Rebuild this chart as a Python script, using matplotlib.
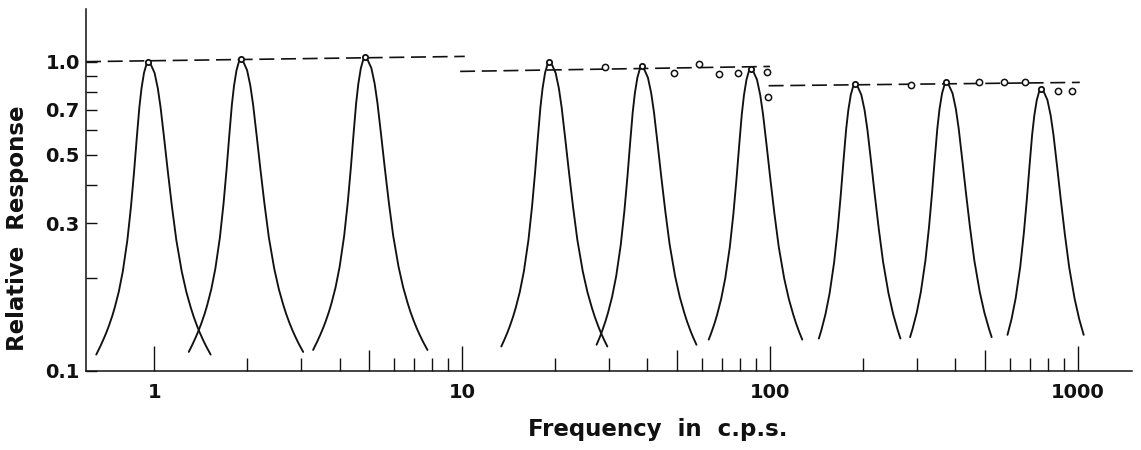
from matplotlib import pyplot as plt
from matplotlib.ticker import FixedLocator, NullFormatter
import numpy as np

# resonance peaks
peak_freq = [0.956, 1.91, 4.84, 19.2, 38.3, 86.6, 189, 374, 760]
peak_resp = [1.0, 1.02, 1.035, 1.0, 0.965, 0.95, 0.849, 0.858, 0.818]
foot_resp = [0.113, 0.113, 0.113, 0.118, 0.12, 0.121, 0.123, 0.126, 0.128]

# shape of one peak (response relative to its top, half widths in decades),
# read off the first curve
shape_rel = [1.0, 0.995, 0.98, 0.92, 0.82, 0.71, 0.56, 0.44, 0.34, 0.265, 0.21,
             0.18, 0.16, 0.15, 0.14, 0.133, 0.126, 0.12, 0.113]
shape_left = [0, 0.0025, 0.0061, 0.0139, 0.0220, 0.0291, 0.0378, 0.0462, 0.0562,
              0.0679, 0.0827, 0.0960, 0.1092, 0.1176, 0.1279, 0.1364, 0.1464,
              0.1561, 0.1690]
shape_right = [0, 0.0030, 0.0081, 0.0204, 0.0310, 0.0401, 0.0520, 0.0637, 0.0769,
               0.0911, 0.1086, 0.1237, 0.1383, 0.1473, 0.1583, 0.1674, 0.1780,
               0.1884, 0.2026]

# dashed level lines (start, end)
level_x = [(0.6, 10.2), (9.85, 100), (99, 1015)]
level_y = [(1.0, 1.04), (0.93, 0.965), (0.836, 0.857)]

# single measured points
point_freq = [29.2, 48.9, 58.9, 68.4, 78.8, 97.8, 98.5, 288, 478, 576, 674, 861, 957]
point_resp = [0.963, 0.921, 0.985, 0.914, 0.921, 0.928, 0.768, 0.843, 0.858, 0.858,
              0.858, 0.803, 0.803]

x_major = [1, 10, 100, 1000]
x_labels = ['1', '10', '100', '1000']
y_major = [0.1, 0.3, 0.5, 0.7, 1.0]
y_labels = ['0.1', '0.3', '0.5', '0.7', '1.0']
y_minor = [0.2, 0.4, 0.6, 0.8, 0.9]

ink = '#111111'
W, H = 1141, 450
fig = plt.figure(figsize=(W / 100, H / 100), dpi=100)
ax = fig.add_axes([86 / W, (H - 371) / H, (1132 - 86) / W, (371 - 9) / H])
ax.set_xscale('log')
ax.set_yscale('log')
ax.set_xlim(0.6, 1500)
ax.set_ylim(0.1, 1.48)

rel = np.array(shape_rel)
left = np.array(shape_left)
right = np.array(shape_right)
for f0, top, foot in zip(peak_freq, peak_resp, foot_resp):
    keep = rel * top >= foot
    xs = np.concatenate([f0 * 10 ** (-left[keep][::-1]), f0 * 10 ** right[keep][1:]])
    ys = np.concatenate([(rel[keep] * top)[::-1], (rel[keep] * top)[1:]])
    ax.plot(xs, ys, color=ink, lw=1.35, solid_joinstyle='round', solid_capstyle='round')

for (x0, x1), (y0, y1) in zip(level_x, level_y):
    ax.plot([x0, x1], [y0, y1], color=ink, lw=1.2, linestyle=(0, (9, 4)))

ax.plot(point_freq, point_resp, 'o', ms=4.5, mfc='white', mec=ink, mew=1.1, zorder=4)
ax.plot(peak_freq, peak_resp, 'o', ms=3.8, mfc='white', mec=ink, mew=1.3, zorder=4)

for side in ['top', 'right']:
    ax.spines[side].set_visible(False)
for side in ['left', 'bottom']:
    ax.spines[side].set_linewidth(1.1)
    ax.spines[side].set_color(ink)

# x ticks
x_minor = [m * d for d in [1, 10, 100] for m in range(2, 10)]
ax.xaxis.set_major_locator(FixedLocator(x_major))
ax.set_xticklabels(x_labels)
ax.xaxis.set_minor_locator(FixedLocator(x_minor))
ax.xaxis.set_minor_formatter(NullFormatter())
ax.tick_params(axis='x', which='major', direction='in', length=18, width=1.0,
               color=ink, pad=8.5)
ax.tick_params(axis='x', which='minor', direction='in', length=9.5, width=1.0,
               color=ink)
# the fives are drawn a bit longer
for tick, loc in zip(ax.xaxis.get_minor_ticks(len(x_minor)), x_minor):
    if str(loc).startswith('5'):
        tick.tick1line.set_markersize(15)

# y ticks
ax.yaxis.set_major_locator(FixedLocator(y_major))
ax.set_yticklabels(y_labels)
ax.yaxis.set_minor_locator(FixedLocator(y_minor))
ax.yaxis.set_minor_formatter(NullFormatter())
ax.tick_params(axis='y', which='both', direction='in', length=8, width=1.0,
               color=ink, pad=4.5)

for lab in ax.get_xticklabels() + ax.get_yticklabels():
    lab.set_fontweight('bold')
    lab.set_fontsize(14)
    lab.set_color(ink)

fig.text(18 / W, 1 - 228 / H, 'Relative  Response', rotation=90, ha='center',
         va='center', fontsize=16.5, fontweight='bold', color=ink)
fig.text(658 / W, (H - 436) / H, 'Frequency  in  c.p.s.', ha='center',
         va='baseline', fontsize=16.5, fontweight='bold', color=ink)

plt.savefig('out.png', dpi=100)
